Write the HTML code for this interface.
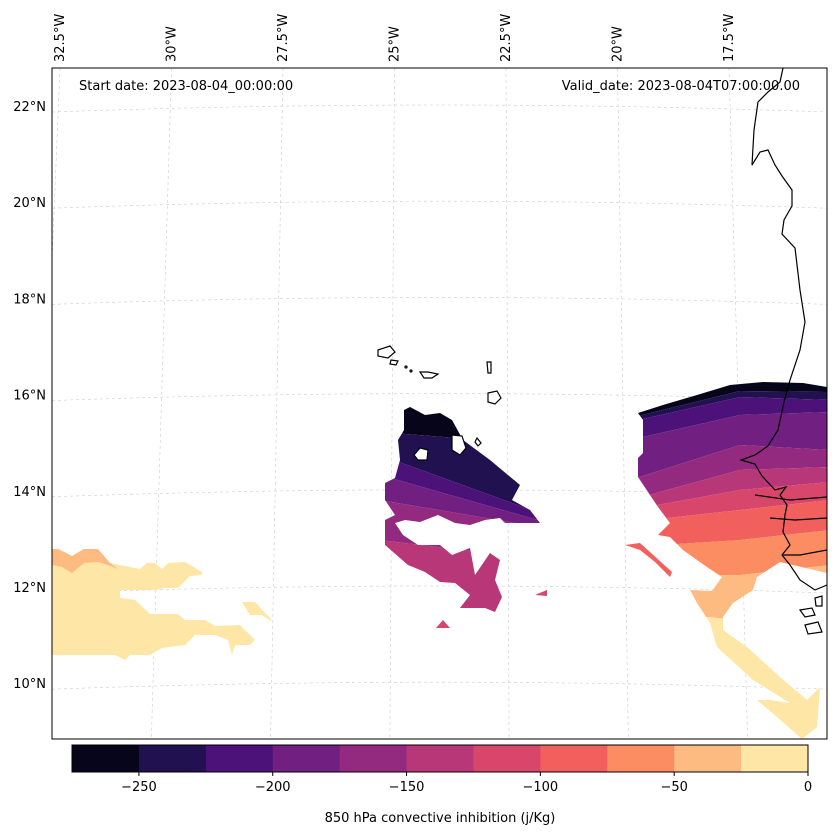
<!DOCTYPE html>
<html><head><meta charset="utf-8"><style>
body{margin:0;background:#fff;font-family:"DejaVu Sans",sans-serif;}
svg text{font-family:"DejaVu Sans",sans-serif;fill:#000;}
</style></head><body>
<svg width="837" height="836" viewBox="0 0 837 836">
<defs><clipPath id="mapclip"><rect x="52" y="68" width="775" height="671"/></clipPath>
<clipPath id="eastclip"><polygon points="638,413 663,405 697,395 730,385 763,382 803,383 827,387 827,573 780,562 757,577 753,590 733,603 723,617 723,630 747,647 780,677 807,700 820,687 817,727 802,739 777,717 757,700 770,700 790,703 753,680 717,647 710,623 697,603 690,590 712,591 722,577 707,567 683,550 670,537 658,535 670,523 658,507 638,477 638,458 643,453 643,420"/></clipPath>
<clipPath id="cvclip"><polygon points="404,410 410,407 425,415 440,413 452,420 463,440 490,460 520,485 512,500 530,510 540,523 505,523 500,518 485,520 470,525 455,523 438,515 420,522 405,520 395,523 403,535 418,545 440,545 452,555 470,548 475,575 490,553 500,560 495,580 502,597 495,612 485,608 460,608 470,595 455,583 440,582 425,572 408,565 385,545 385,520 395,515 385,500 385,483 395,478 400,460 398,440 404,430"/></clipPath></defs>

<g id="grid" stroke="#ccc" stroke-width="0.6" stroke-dasharray="3,3" fill="none" clip-path="url(#mapclip)"></g>

<g clip-path="url(#mapclip)">
 <g id="west">
  <polygon fill="#fde6a6" points="52,549 58,549 72,556 84,549 98,549 110,563 140,569 147,563 155,563 162,569 168,563 185,562 202,572 202,575 190,576 178,588 165,588 155,590 120,590 120,598 135,600 150,614 178,614 185,620 205,620 215,626 240,625 255,640 250,645 235,645 232,655 228,640 215,635 195,635 185,645 162,648 150,655 130,655 125,660 115,655 52,655"/>
  <polygon fill="#febb81" points="52,549 58,549 72,556 84,549 98,549 110,563 118,569 108,565 98,562 84,563 72,573 62,567 52,565"/>
  <polygon fill="#fde6a6" points="242,602 255,602 270,618 272,622 262,615 250,615"/>
 </g>
 <g clip-path="url(#eastclip)" id="east"></g>
 <polygon fill="#f1605d" points="625,545 640,543 672,572 670,577 655,562 640,550"/>
 <g clip-path="url(#cvclip)" id="cv"></g>
 <polygon fill="#d8456c" points="535,595 547,590 547,596"/>
 <polygon fill="#d8456c" points="436,628 443,620 450,628"/>
 <g fill="#fff" stroke="#000" stroke-width="1.2">
  <path fill="none" d="M783,68 L780,82 L768,92 L758,102 L754,130 L752,165 L760,152 L768,150 L775,165 L782,176 L792,190 L792,206 L784,220 L782,234 L795,248 L800,290 L805,322 L800,350 L790,380 L784,402 L778,430 L768,446 L755,455 L741,460 L755,464 L762,476 L775,490 L786,487 L780,495 L787,505 L785,515 L783,532 L790,545 L782,555 L790,565 L800,580 L815,590 L827,585"/>
  <path fill="none" d="M755,495 L790,500 L827,497 M770,518 L795,520 L827,518 M782,555 L800,555 L827,550"/>
  <path d="M420,448 L428,450 L427,460 L418,460 L414,455 Z"/>
  <path d="M452,435 L462,436 L466,448 L460,455 L452,450 Z"/>
  <path d="M477,438 L481,443 L478,446 L475,442 Z"/>
  <path d="M378,350 L390,346 L395,352 L388,358 L378,356 Z"/>
  <path d="M391,360 L398,361 L396,365 L390,364 Z"/>
  <path d="M420,372 L428,372 L438,374 L432,378 L424,378 Z"/>
  <path d="M487,362 L491,362 L491,373 L488,373 Z"/>
  <path d="M488,393 L497,391 L501,398 L495,404 L488,402 Z"/>
  <path d="M800,610 L812,608 L815,615 L805,617 Z"/>
  <path d="M805,625 L818,622 L822,632 L808,634 Z"/>
  <path d="M815,598 L822,596 L822,606 L816,606 Z"/>
  <circle cx="406" cy="367" r="1"/><circle cx="411" cy="371" r="1"/>
 </g>
</g>
<rect x="52" y="68" width="775" height="671" fill="none" stroke="#000" stroke-width="1"/>
<text x="79" y="90" font-size="13">Start date: 2023-08-04_00:00:00</text>
<text x="800" y="90" font-size="13" text-anchor="end">Valid_date: 2023-08-04T07:00:00.00</text>
<g id="latlabels" font-size="13"></g>
<g id="lonlabels" font-size="13"></g>
<g id="cbar"></g>
<text x="440" y="822" font-size="13" text-anchor="middle">850 hPa convective inhibition (j/Kg)</text>
</svg>
<script>
const levels=[-275,-250,-225,-200,-175,-150,-125,-100,-75,-50,-25,0];
const colors=["#06051a","#221150","#4d117a","#711f81","#932a80","#b83778","#d9466b","#f1605d","#fc8c62","#febb81","#fde6a6"];
const cbTicks=[-250,-200,-150,-100,-50,0];
const latVals=[22,20,18,16,14,12,10];
const lonVals=[32.5,30,27.5,25,22.5,20,17.5];
const NS="http://www.w3.org/2000/svg";
function mk(t,a,p){const e=document.createElementNS(NS,t);for(const k in a)e.setAttribute(k,a[k]);p.appendChild(e);return e;}
const latY=v=>106+(22-v)*48.1;
const lonXtop=v=>60+(32.5-v)*44.6;
const grid=document.getElementById('grid');
latVals.forEach(v=>{const y=latY(v);const e=mk('path',{d:`M52,${y+6} Q440,${y-8} 827,${y+6}`},grid);

});
lonVals.forEach(v=>{const xt=lonXtop(v);const xb=xt-(v-23.5)*3.1;const e=mk('line',{x1:xt,y1:68,x2:xb,y2:739},grid);

});
const ll=document.getElementById('latlabels');
latVals.forEach(v=>{const t=mk('text',{x:46,y:latY(v)+5,'text-anchor':'end'},ll);t.textContent=v+'°N';

});
const lo=document.getElementById('lonlabels');
lonVals.forEach(v=>{const x=lonXtop(v)+4;const t=mk('text',{x:x,y:62,transform:`rotate(-90 ${x} 62)`},lo);t.textContent=v+'°W';

});
const cb=document.getElementById('cbar');
const cx=v=>72+(v-levels[0])/(levels[levels.length-1]-levels[0])*736;
for(let i=0;i<colors.length;i++){const r=mk('rect',{x:cx(levels[i]),y:745,width:cx(levels[i+1])-cx(levels[i])+0.5,height:27,fill:colors[i]},cb);

}
const fr=mk('rect',{x:72,y:745,width:736,height:27,fill:'none',stroke:'#000','stroke-width':1},cb);


cbTicks.forEach(v=>{const x=cx(v);mk('line',{x1:x,y1:772,x2:x,y2:776,stroke:'#000'},cb);
const t=mk('text',{x:x,y:791,'font-size':13,'text-anchor':'middle'},cb);t.textContent=(v<0?'\u2212'+(-v):v);

});
const east=document.getElementById('east');
const eb=[[370,370,370],[418,391,392],[422,397,400],[440,415,412],[480,445,450],[500,470,467],[510,490,482],[522,510,500],[547,540,530],[577,575,565],[610,620,620],[800,800,800]];
for(let i=0;i<11;i++){const a=eb[i],b=eb[i+1];const p=mk('polygon',{points:`630,${a[0]} 740,${a[1]} 830,${a[2]} 830,${b[2]} 740,${b[1]} 630,${b[0]}`,fill:colors[i]},east);

}
const cv=document.getElementById('cv');
const cb2=[[400,400],[432,445],[455,515],[475,522],[500,528],[540,560],[640,640]];
for(let i=0;i<6;i++){const a=cb2[i],b=cb2[i+1];const p=mk('polygon',{points:`380,${a[0]} 545,${a[1]} 545,${b[1]} 380,${b[0]}`,fill:colors[i]},cv);

}
</script>
</body></html>
